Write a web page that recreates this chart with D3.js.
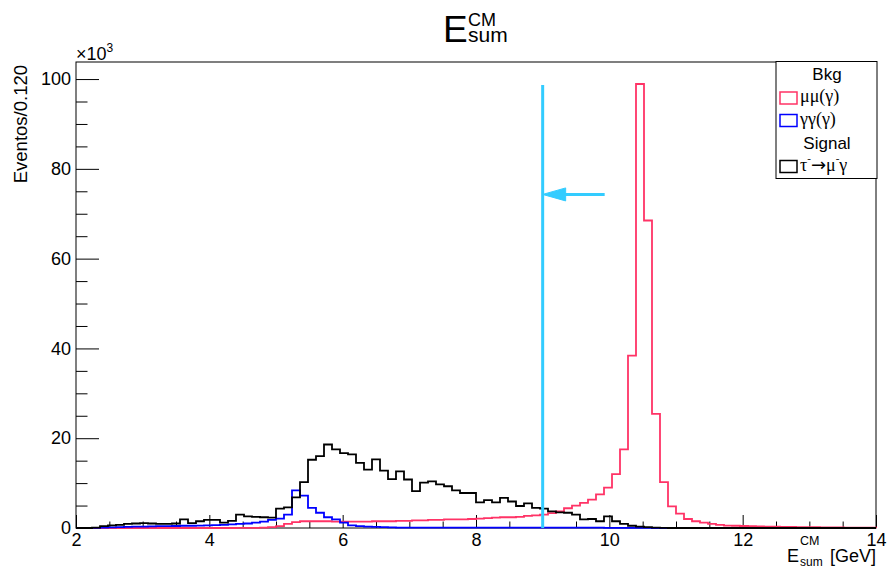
<!DOCTYPE html>
<html>
<head>
<meta charset="utf-8">
<script src="https://cdn.jsdelivr.net/npm/d3@7"></script>
<style>
  body { margin: 0; background: #fff; }
  text { font-family: "Liberation Sans", Arial, sans-serif; }
  .greek { font-family: "Liberation Serif", "Times New Roman", serif; }
</style>
</head>
<body>
<div id="chart"></div>
<script>
// histogram binning: 100 bins of 0.120 GeV from 2 to 14
const binLow = 2;
const binWidth = 0.12;

// counts per bin, in units of 10^3 events
const mumuGamma = [
  0, 0, 0, 0, 0, 0, 0, 0, 0, 0,
  0, 0, 0, 0, 0, 0, 0, 0, 0, 0,
  0.02, 0.03, 0.05, 0.1, 0.2, 0.4, 0.9, 1.3, 1.5, 1.5,
  1.5, 1.5, 1.4, 1.4, 1.4, 1.4, 1.4, 1.5, 1.5, 1.5,
  1.6, 1.6, 1.7, 1.7, 1.8, 1.8, 1.9, 1.9, 1.9, 2.0,
  2.1, 2.2, 2.3, 2.4, 2.4, 2.5, 2.7, 2.8, 3.0, 3.3,
  3.7, 4.4, 5.0, 5.6, 6.3, 7.5, 9.0, 12.0, 17.5, 38.4,
  98.9, 68.5, 25.4, 10.2, 4.8, 3.2, 2.0, 1.5, 1.2, 0.9,
  0.7, 0.55, 0.5, 0.45, 0.4, 0.35, 0.3, 0.3, 0.25, 0.25,
  0.2, 0.2, 0.2, 0.15, 0.15, 0.15, 0.1, 0.1, 0.1, 0.1
];
const gammaGamma = [
  0, 0, 0.05, 0.1, 0.15, 0.2, 0.25, 0.3, 0.3, 0.35,
  0.4, 0.4, 0.45, 0.5, 0.5, 0.55, 0.6, 0.65, 0.7, 0.8,
  0.9, 1.0, 1.2, 1.4, 1.8, 2.1, 3.0, 8.4, 7.2, 4.5,
  3.4, 2.4, 1.9, 1.2, 0.6, 0.4, 0.3, 0.25, 0.2, 0.15,
  0.1, 0.1, 0.1, 0.1, 0.1, 0.1, 0.1, 0.1, 0.1, 0.1,
  0.1, 0.1, 0.1, 0.1, 0.1, 0.1, 0.1, 0.1, 0.1, 0.1,
  0.1, 0.1, 0.1, 0.1, 0.1, 0.1, 0.05, 0.05, 0.05, 0.05,
  0.05, 0.05, 0, 0, 0, 0, 0, 0, 0, 0,
  0, 0, 0, 0, 0, 0, 0, 0, 0, 0,
  0, 0, 0, 0, 0, 0, 0, 0, 0, 0
];
const tauMuGamma = [
  0, 0, 0.1, 0.4, 0.6, 0.7, 0.9, 1.0, 1.1, 1.0,
  0.9, 0.9, 1.0, 1.9, 1.1, 1.5, 1.8, 1.8, 1.2, 1.6,
  3.0, 2.6, 2.5, 2.4, 2.3, 4.3, 4.6, 6.8, 10.2, 15.2,
  16.0, 18.6, 17.5, 16.7, 16.4, 14.5, 13.0, 15.3, 12.8, 10.9,
  12.6, 10.8, 8.2, 10.1, 10.4, 9.7, 9.3, 8.4, 7.8, 7.8,
  5.7, 6.2, 5.7, 6.7, 5.9, 4.9, 5.5, 4.5, 4.3, 3.7,
  3.5, 3.4, 3.0, 1.9, 2.0, 1.5, 2.6, 1.5, 0.9, 0.5,
  0.3, 0.2, 0.1, 0.05, 0, 0, 0, 0, 0, 0,
  0, 0, 0, 0, 0, 0, 0, 0, 0, 0,
  0, 0, 0, 0, 0, 0, 0, 0, 0, 0
];

const xTicks = [2, 4, 6, 8, 10, 12, 14];
const yTicks = [0, 20, 40, 60, 80, 100];

// cut line and arrow
const cutValue = 9.0;
const cutTop = 98.7;
const arrowFrom = 9.93;
const arrowLevel = 74.3;

const width = 888, height = 581;
const frame = { left: 76, right: 876, top: 62, bottom: 528 };

const svg = d3.select("#chart").append("svg")
  .attr("width", width)
  .attr("height", height);

const x = d3.scaleLinear().domain([2, 14]).range([frame.left, frame.right]);
const y = d3.scaleLinear().domain([0, 103.8]).range([frame.bottom, frame.top]);

// frame
svg.append("rect")
  .attr("x", frame.left).attr("y", frame.top)
  .attr("width", frame.right - frame.left)
  .attr("height", frame.bottom - frame.top)
  .attr("fill", "none").attr("stroke", "#000").attr("stroke-width", 1);

// x axis, major + minor ticks pointing inside
const xMinor = d3.range(2, 14.01, 0.5).filter(v => !xTicks.includes(v));
svg.append("g")
  .attr("transform", `translate(0,${frame.bottom})`)
  .call(d3.axisBottom(x).tickValues(xMinor).tickSize(-6.5).tickFormat(""))
  .call(g => g.select(".domain").remove());
svg.append("g")
  .attr("transform", `translate(0,${frame.bottom})`)
  .call(d3.axisBottom(x).tickValues(xTicks).tickSize(-13).tickPadding(5))
  .call(g => g.select(".domain").remove())
  .call(g => g.selectAll("text").attr("font-size", 18).attr("fill", "#000")
    .style("font-family", "'Liberation Sans', Arial, sans-serif"));

// y axis
const yMinor = d3.range(0, 101, 5).filter(v => !yTicks.includes(v));
svg.append("g")
  .attr("transform", `translate(${frame.left},0)`)
  .call(d3.axisLeft(y).tickValues(yMinor).tickSize(-11.5).tickFormat(""))
  .call(g => g.select(".domain").remove());
svg.append("g")
  .attr("transform", `translate(${frame.left},0)`)
  .call(d3.axisLeft(y).tickValues(yTicks).tickSize(-23).tickPadding(5))
  .call(g => g.select(".domain").remove())
  .call(g => g.selectAll("text").attr("font-size", 18).attr("fill", "#000")
    .style("font-family", "'Liberation Sans', Arial, sans-serif"));
svg.selectAll(".tick line").attr("stroke", "#000").attr("stroke-width", 1);

// x10^3 multiplier
const mult = svg.append("text").attr("x", 76).attr("y", 60).attr("font-size", 18);
mult.append("tspan").text("\u00d710");
mult.append("tspan").attr("font-size", 12).attr("dy", -8).text("3");

// histograms as step outlines
function stepPoints(vals) {
  const pts = [[binLow, 0]];
  vals.forEach((v, i) => {
    const x0 = binLow + i * binWidth;
    pts.push([x0, v], [x0 + binWidth, v]);
  });
  pts.push([binLow + vals.length * binWidth, 0]);
  return pts;
}
const line = d3.line().x(d => x(d[0])).y(d => y(d[1]));

const series = [
  { name: "mumu", values: mumuGamma, color: "#ff3366" },
  { name: "gg", values: gammaGamma, color: "#0000ff" },
  { name: "sig", values: tauMuGamma, color: "#000000" }
];
svg.append("g").selectAll("path")
  .data(series)
  .join("path")
  .attr("d", d => line(stepPoints(d.values)))
  .attr("fill", "none")
  .attr("stroke", d => d.color)
  .attr("stroke-width", 1.8)
  .attr("stroke-linejoin", "miter");

// cut line + arrow
const cyan = "#33ccff";
svg.append("line")
  .attr("x1", x(cutValue)).attr("x2", x(cutValue))
  .attr("y1", y(cutTop)).attr("y2", y(0))
  .attr("stroke", cyan).attr("stroke-width", 3);
svg.append("line")
  .attr("x1", x(arrowFrom)).attr("x2", x(cutValue) + 20)
  .attr("y1", y(arrowLevel)).attr("y2", y(arrowLevel))
  .attr("stroke", cyan).attr("stroke-width", 3);
const ax = x(cutValue), ay = y(arrowLevel);
svg.append("path")
  .attr("d", `M${ax},${ay}L${ax + 23},${ay - 6.5}L${ax + 23},${ay + 6.5}Z`)
  .attr("fill", cyan).attr("stroke", cyan).attr("stroke-width", 1);

// title (one text element with super/subscript tspans)
const title = svg.append("text").attr("x", 443).attr("y", 42);
title.append("tspan").attr("font-size", 37).text("E");
title.append("tspan").attr("x", 468).attr("y", 26).attr("font-size", 18).text("CM");
title.append("tspan").attr("x", 468).attr("y", 42).attr("font-size", 21).text("sum");

// x axis title
const xt = svg.append("text").attr("x", 787).attr("y", 562).attr("font-size", 18);
xt.append("tspan").text("E");
xt.append("tspan").attr("x", 800).attr("y", 545).attr("font-size", 12.5).text("CM");
xt.append("tspan").attr("x", 800).attr("y", 566).attr("font-size", 12).text("sum");
xt.append("tspan").attr("x", 876).attr("y", 562).attr("text-anchor", "end").text("[GeV]");

// y axis title
svg.append("text")
  .attr("transform", "translate(27,65) rotate(-90)")
  .attr("text-anchor", "end")
  .attr("font-size", 18.5)
  .text("Eventos/0.120");

// legend
const lg = svg.append("g");
lg.append("rect")
  .attr("x", 776).attr("y", 61.5).attr("width", 101).attr("height", 117)
  .attr("fill", "#fff").attr("stroke", "#000").attr("stroke-width", 1);
lg.append("text").attr("x", 827).attr("y", 80).attr("font-size", 17)
  .attr("text-anchor", "middle").text("Bkg");
lg.append("text").attr("x", 827).attr("y", 149).attr("font-size", 17)
  .attr("text-anchor", "middle").text("Signal");

const entries = [
  { color: "#ff3366", y: 92 },
  { color: "#0000ff", y: 114.5 },
  { color: "#000000", y: 160.5 }
];
lg.selectAll("rect.sym").data(entries).join("rect")
  .attr("class", "sym")
  .attr("x", 780).attr("y", d => d.y)
  .attr("width", 17).attr("height", 12)
  .attr("fill", "none").attr("stroke", d => d.color).attr("stroke-width", 1.5);

lg.append("text").attr("class", "greek").attr("x", 800).attr("y", 102)
  .attr("font-size", 18).text("\u03bc\u03bc(\u03b3)");
lg.append("text").attr("class", "greek").attr("x", 800).attr("y", 125)
  .attr("font-size", 18).text("\u03b3\u03b3(\u03b3)");
const tau = lg.append("text").attr("class", "greek").attr("x", 800).attr("y", 171)
  .attr("font-size", 18);
tau.append("tspan").text("\u03c4");
tau.append("tspan").attr("font-size", 11).attr("dy", -9).text("-");
tau.append("tspan").attr("dy", 9).attr("font-family", "DejaVu Sans")
  .attr("font-size", 18).text("\u2192");
tau.append("tspan").text("\u03bc");
tau.append("tspan").attr("font-size", 11).attr("dy", -9).text("-");
tau.append("tspan").attr("dy", 9).text("\u03b3");
</script>
</body>
</html>
